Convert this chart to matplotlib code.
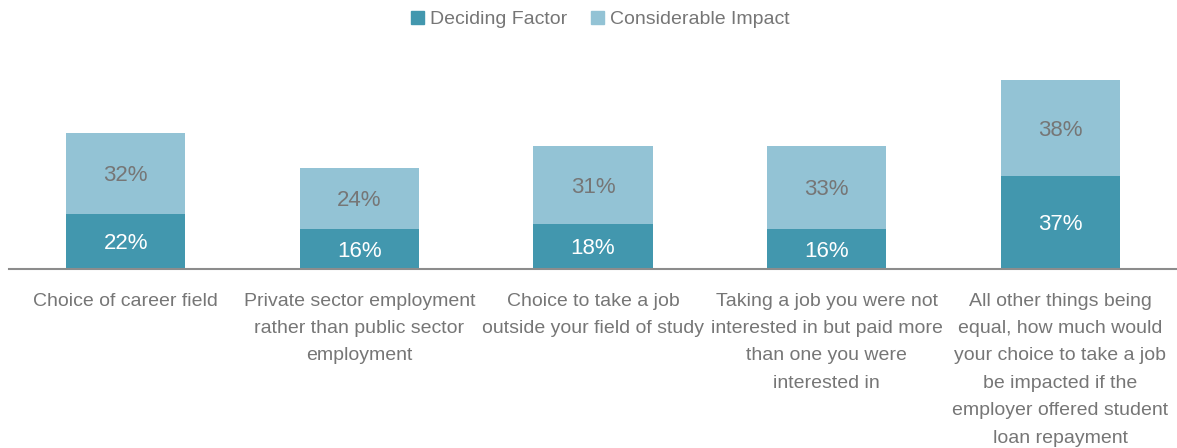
import matplotlib.pyplot as plt
import numpy as np
from matplotlib.patches import Patch

plt.rcParams['font.family'] = ['Liberation Sans Narrow', 'Liberation Sans', 'DejaVu Sans']

categories = ["Choice of career field",
              "Private sector employment\nrather than public sector\nemployment",
              "Choice to take a job\noutside your field of study",
              "Taking a job you were not\ninterested in but paid more\nthan one you were\ninterested in",
              "All other things being\nequal, how much would\nyour choice to take a job\nbe impacted if the\nemployer offered student\nloan repayment"]
deciding = [22, 16, 18, 16, 37]
considerable = [32, 24, 31, 33, 38]

dark = '#4297ae'
light = '#93c3d5'
grey = '#767676'

fig = plt.figure(figsize=(11.77, 4.48), dpi=100)
ax = fig.add_axes([9 / 1177, (448 - 269) / 448, 1 - 9 / 1177, 201.6 / 448])

x = np.arange(len(categories))
w = 0.51
ax.bar(x, deciding, w, color=dark, edgecolor='none')
ax.bar(x, considerable, w, bottom=deciding, color=light, edgecolor='none')

for i in range(len(x)):
    ax.text(x[i], deciding[i] / 2, f"{deciding[i]}%", ha='center', va='center_baseline',
            color='white', fontsize=16)
    ax.text(x[i], deciding[i] + considerable[i] / 2, f"{considerable[i]}%",
            ha='center', va='center_baseline', color=grey, fontsize=16)

ax.set_xlim(-0.5, 4.5)
ax.set_ylim(0, 80)
ax.set_yticks([])
ax.set_xticks(x)
ax.set_xticklabels(categories, fontsize=14, color=grey, linespacing=1.8)
ax.tick_params(axis='x', length=0, pad=17)
for s in ['top', 'right', 'left']:
    ax.spines[s].set_visible(False)
ax.spines['bottom'].set_color('#8c8c8c')
ax.spines['bottom'].set_linewidth(1.5)

handles = [Patch(color=dark, label='Deciding Factor'),
           Patch(color=light, label='Considerable Impact')]
leg = fig.legend(handles=handles, loc='upper center', bbox_to_anchor=(0.51, 1.015),
                 ncol=2, frameon=False, fontsize=14, handlelength=0.7,
                 handleheight=0.7, handletextpad=0.3, columnspacing=1.2)
for t in leg.get_texts():
    t.set_color(grey)

fig.savefig('out.png', dpi=100)
